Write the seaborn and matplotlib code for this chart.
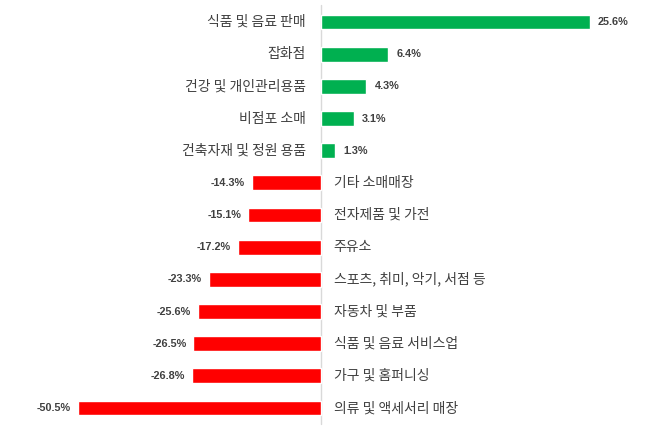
import pandas as pd
import matplotlib
matplotlib.use('Agg')
import matplotlib.pyplot as plt
import seaborn as sns

categories = ['식품 및 음료 판매', '잡화점', '건강 및 개인관리용품', '비점포 소매', '건축자재 및 정원 용품',
              '기타 소매매장', '전자제품 및 가전', '주유소', '스포츠, 취미, 악기, 서점 등',
              '자동차 및 부품', '식품 및 음료 서비스업', '가구 및 홈퍼니싱', '의류 및 액세서리 매장']
values = [25.6, 6.4, 4.3, 3.1, 1.3, -14.3, -15.1, -17.2, -23.3, -25.6, -26.5, -26.8, -50.5]
value_labels = ['25.6%', '6.4%', '4.3%', '3.1%', '1.3%', '-14.3%', '-15.1%', '-17.2%',
                '-23.3%', '-25.6%', '-26.5%', '-26.8%', '-50.5%']

sns.set_style('white')
plt.rcParams['font.family'] = ['Noto Sans CJK KR', 'DejaVu Sans']

df = pd.DataFrame({'cat': categories, 'val': values, 'lab': value_labels})
pos = df[df['val'] > 0]
neg = df[df['val'] < 0]

fig = plt.figure(figsize=(6.62, 4.32), dpi=100)
ax1 = fig.add_axes([0, 0, 1, 1])
ax2 = ax1.twiny()

# 양수와 음수는 서로 다른 축 스케일 (원본 엑셀 차트와 동일)
sns.barplot(data=pos, x='val', y='cat', order=categories, color='#00B050',
            width=0.46, orient='h', ax=ax1, saturation=1)
sns.barplot(data=neg, x='val', y='cat', order=categories, color='#FF0000',
            width=0.46, orient='h', ax=ax2, saturation=1)

ax1.set_xlim(-30.57, 32.48)
ax2.set_xlim(-66.6, 70.7)
ax1.set_ylim(12.745, -0.684)

for ax in (ax1, ax2):
    ax.set_axis_off()

ax1.axvline(0, ymin=(432 - 424) / 432, ymax=(432 - 5) / 432, color='#d9d9d9', lw=1, zorder=0)

txt_color = '#404040'
for i, (c, v, l) in enumerate(zip(categories, values, value_labels)):
    if v > 0:
        ax1.annotate(c, (0, i), xytext=(-11, 0), textcoords='offset points',
                     ha='right', va='center', fontsize=10, color=txt_color)
        ax1.annotate(l, (v, i), xytext=(6, 0), textcoords='offset points',
                     ha='left', va='center', fontsize=7.8, fontweight='bold', color=txt_color,
                     family=['Liberation Sans', 'DejaVu Sans'])
    else:
        ax2.annotate(c, (0, i), xytext=(9, 0), textcoords='offset points',
                     ha='left', va='center', fontsize=10, color=txt_color)
        ax2.annotate(l, (v, i), xytext=(-5, 0), textcoords='offset points',
                     ha='right', va='center', fontsize=7.8, fontweight='bold', color=txt_color,
                     family=['Liberation Sans', 'DejaVu Sans'])

fig.savefig('out.png', dpi=100)
